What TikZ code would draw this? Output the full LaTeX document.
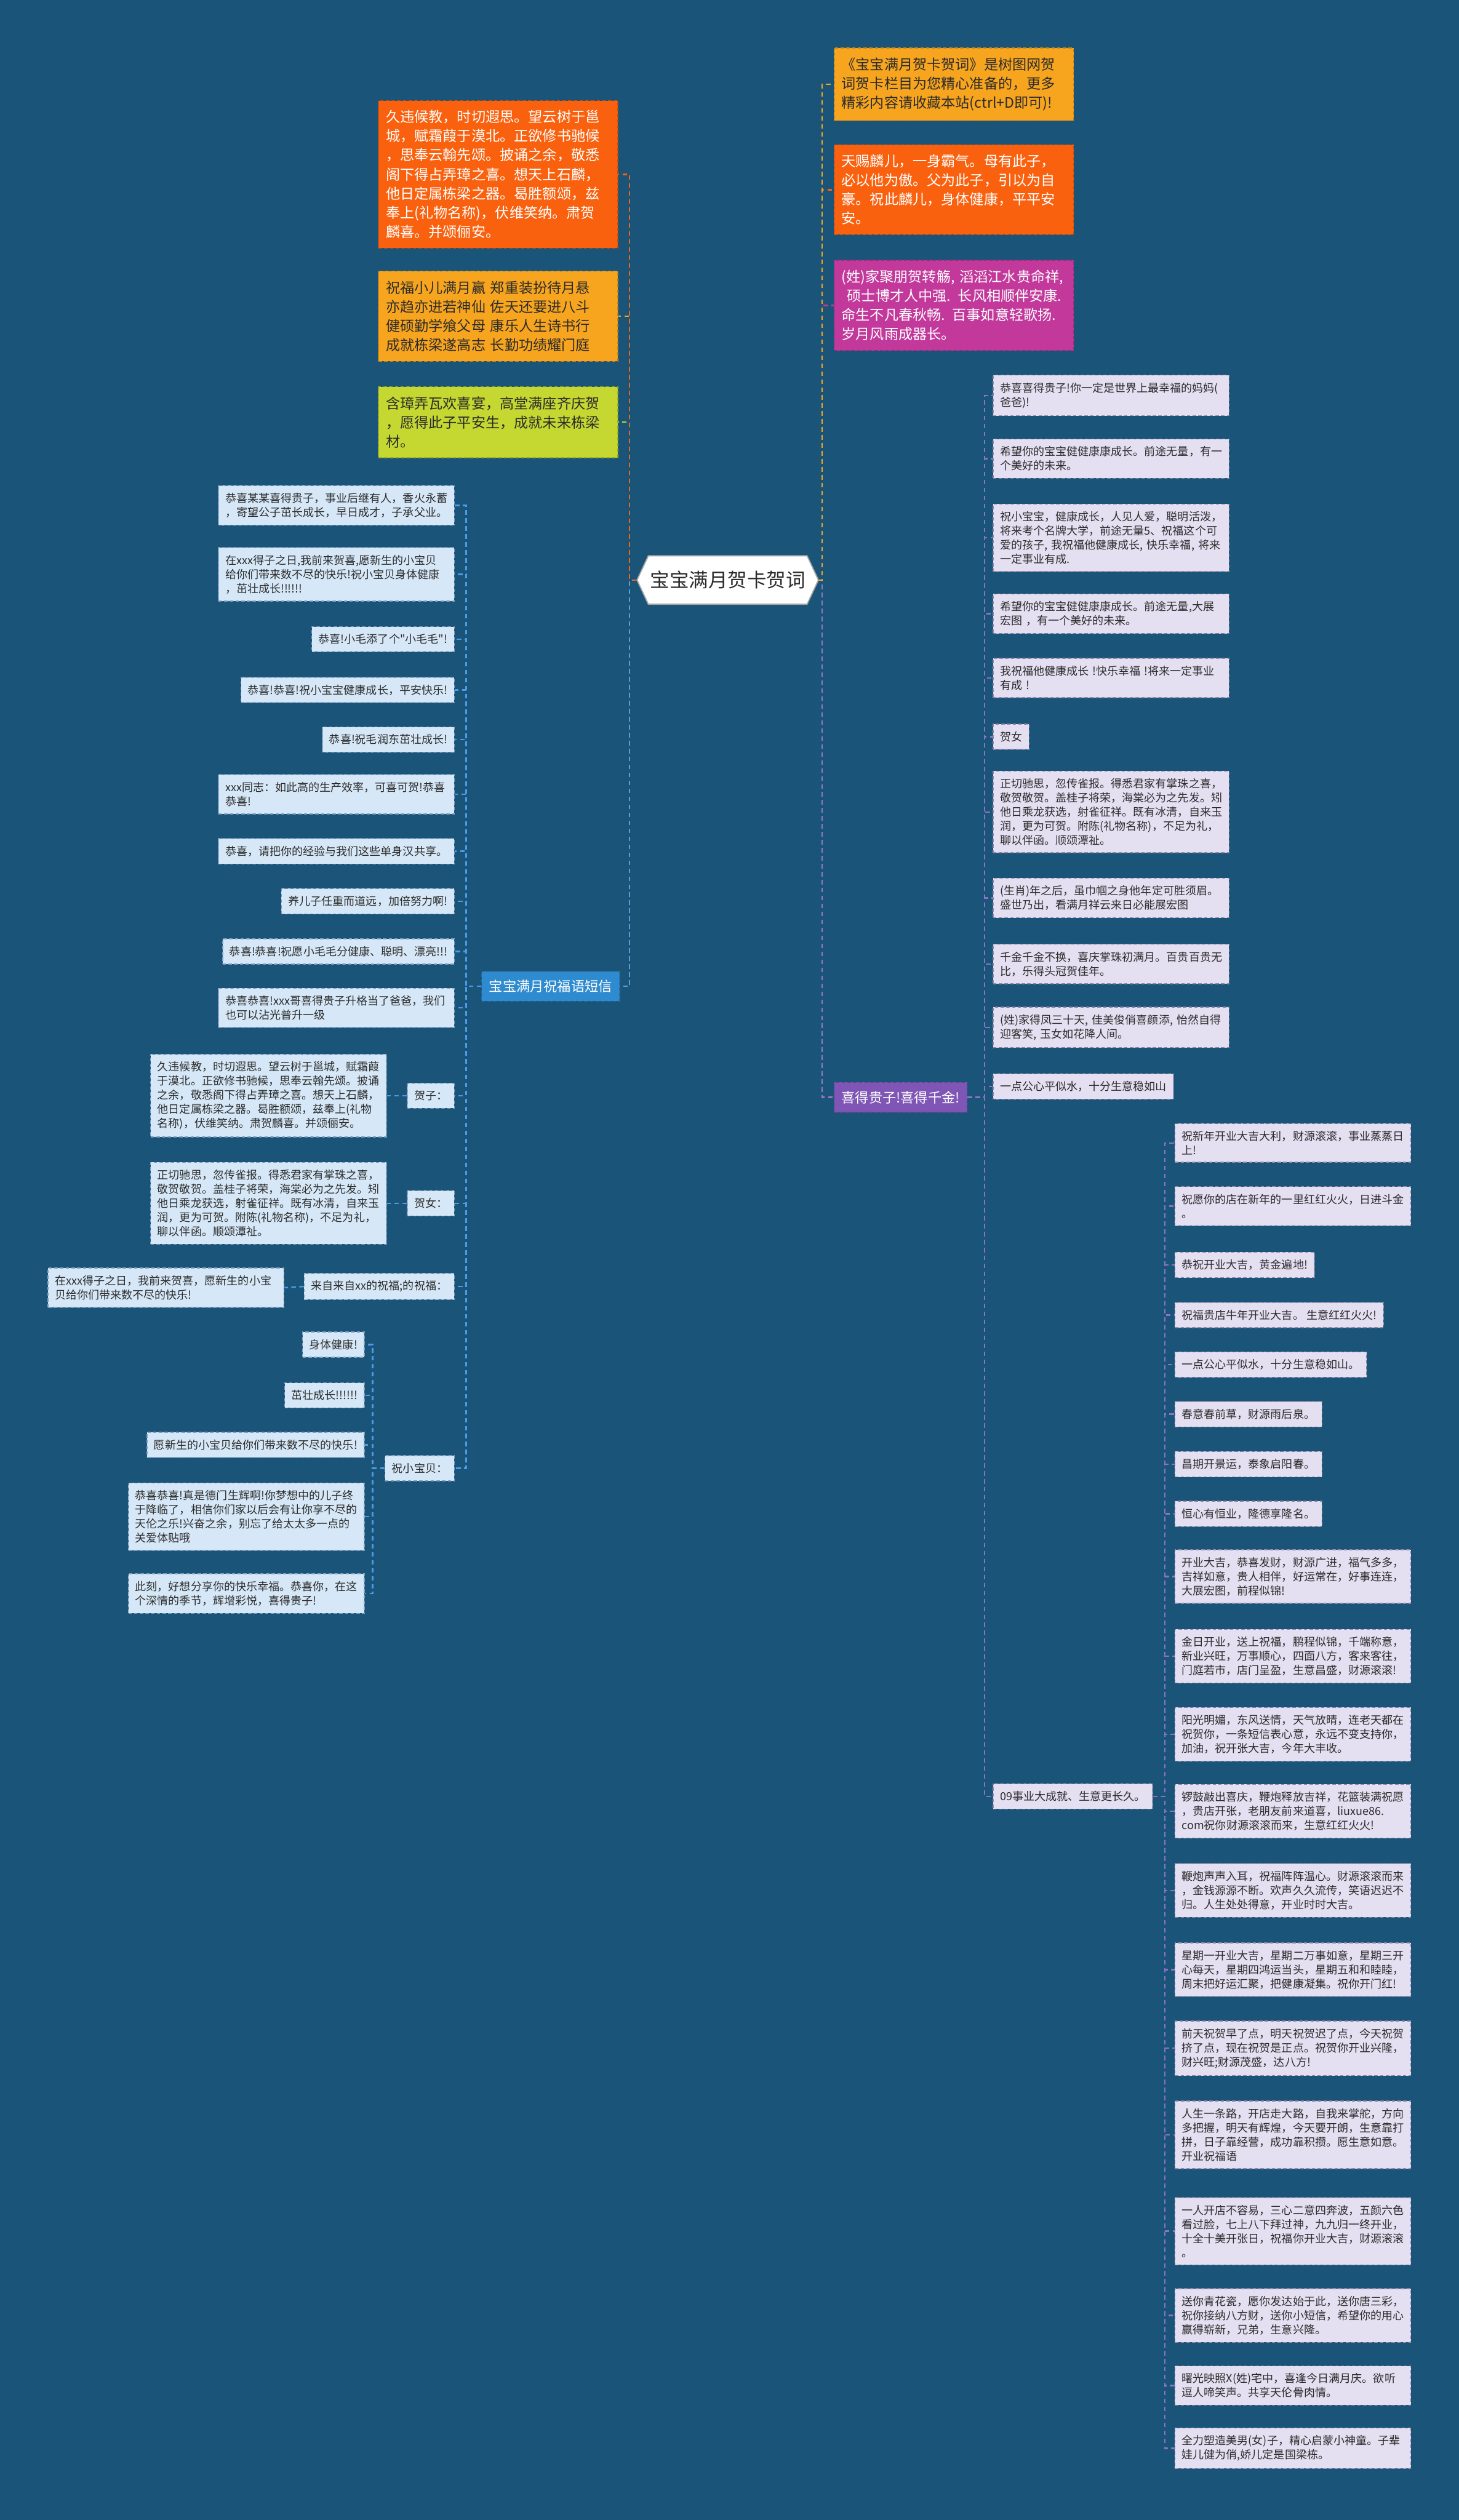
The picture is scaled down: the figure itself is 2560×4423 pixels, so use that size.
\documentclass[tikz,border=0pt]{standalone}
\usepackage{fontspec}
\newfontfamily\cjk{Noto Sans CJK SC}
\usetikzlibrary{shapes.symbols}
\definecolor{bg}{HTML}{1B5479}
\definecolor{lfill}{HTML}{D6E8F7}
\definecolor{lborder}{HTML}{7E9FBF}
\definecolor{rfill}{HTML}{E4DFF1}
\definecolor{rborder}{HTML}{8F88A8}
\definecolor{lline}{HTML}{4C9BE8}
\definecolor{rline}{HTML}{8D72C9}
\definecolor{corange}{HTML}{F9610F}
\definecolor{cyellow}{HTML}{F7A51E}
\definecolor{cgreen}{HTML}{C5D731}
\definecolor{cmagenta}{HTML}{C2399B}
\definecolor{cblue}{HTML}{2F8BD0}
\definecolor{cpurple}{HTML}{7F55B5}
\definecolor{txt}{HTML}{2B2B2B}
\begin{document}
\begin{tikzpicture}[x=1pt,y=-1pt,
  box/.style={inner xsep=12pt, inner ysep=13pt, line width=1.5pt, dash pattern=on 6pt off 4pt,
    font=\cjk\fontsize{19.5}{24.8}\selectfont},
  lbox/.style={box, fill=lfill, draw=lborder, anchor=east, text=txt},
  lwide/.style={lbox, text width=390pt, align=left},
  rbox/.style={box, fill=rfill, draw=rborder, anchor=west, text=txt},
  rwide/.style={rbox, text width=390pt, align=left},
  cbox/.style={inner xsep=13pt, inner ysep=17pt, text width=394pt, align=left, line width=1.5pt,
    dash pattern=on 6pt off 4pt, font=\cjk\fontsize{25}{33.6}\selectfont},
  branch/.style={inner xsep=13pt, inner ysep=15pt, text=white, line width=1.5pt,
    dash pattern=on 6pt off 4pt, font=\cjk\fontsize{24}{30}\selectfont},
  conn/.style={line width=2.5pt, dash pattern=on 8pt off 6pt},
  lconn/.style={conn, draw=lline},
  rconn/.style={conn, draw=rline},
  centre/.style={shape=signal, signal to=east and west, signal pointer angle=130,
    minimum width=310pt, minimum height=85pt, fill=white, draw=gray!70, line width=2pt,
    text=txt, font=\cjk\fontsize{34}{40}\selectfont}
]
\fill[bg] (0,0) rectangle (2560,4423);
\useasboundingbox (0,0) rectangle (2560,4423);

% trunk coordinates
\coordinate (tl) at (1105,0);
\coordinate (tr) at (1443,0);
\coordinate (t1) at (818,0);
\coordinate (t2) at (654,0);
\coordinate (t3) at (1728,0);
\coordinate (t4) at (2044,0);

% centre
\node[centre] (ctr) at (1277,1018) {宝宝满月贺卡贺词};

% top left coloured boxes
\node[cbox, anchor=east, fill=corange, draw=corange!80!black, text=white] (L1) at (1085,306)
 {久违候教，时切遐思。望云树于邕\\城，赋霜葭于漠北。正欲修书驰候\\，思奉云翰先颂。披诵之余，敬悉\\阁下得占弄璋之喜。想天上石麟，\\他日定属栋梁之器。曷胜额颂，兹\\奉上(礼物名称)，伏维笑纳。肃贺\\麟喜。并颂俪安。};
\node[cbox, anchor=east, fill=cyellow, draw=cyellow!80!black, text=txt] (L2) at (1085,555)
 {祝福小儿满月赢 郑重装扮待月悬\\亦趋亦进若神仙 佐天还要进八斗\\健硕勤学飨父母 康乐人生诗书行\\成就栋梁遂高志 长勤功绩耀门庭};
\node[cbox, anchor=east, fill=cgreen, draw=cgreen!80!black, text=txt] (L3) at (1085,741)
 {含璋弄瓦欢喜宴，高堂满座齐庆贺\\，愿得此子平安生，成就未来栋梁\\材。};

% top right coloured boxes
\node[cbox, anchor=west, fill=cyellow, draw=cyellow!80!black, text=txt] (R1) at (1463,148)
 {《宝宝满月贺卡贺词》是树图网贺\\词贺卡栏目为您精心准备的，更多\\精彩内容请收藏本站(ctrl+D即可)!};
\node[cbox, anchor=west, fill=corange, draw=corange!80!black, text=white] (R2) at (1463,333)
 {天赐麟儿，一身霸气。母有此子，\\必以他为傲。父为此子，引以为自\\豪。祝此麟儿，身体健康，平平安\\安。};
\node[cbox, anchor=west, fill=cmagenta, draw=cmagenta!80!black, text=white] (R3) at (1463,536)
 {(姓)家聚朋贺转觞, 滔滔江水贵命祥,\\\hspace*{0.4em}硕士博才人中强. 长风相顺伴安康.\\命生不凡春秋畅. 百事如意轻歌扬.\\岁月风雨成器长。};

% branch nodes
\node[branch, anchor=east, fill=cblue, draw=cblue!80!black] (B1) at (1088,1731) {宝宝满月祝福语短信};
\node[branch, anchor=west, fill=cpurple, draw=cpurple!80!black] (B2) at (1463,1926) {喜得贵子!喜得千金!};

% left column
\node[lwide] (c1) at (798,887) {恭喜某某喜得贵子，事业后继有人，香火永蓄\\，寄望公子茁长成长，早日成才，子承父业。};
\node[lwide] (c2) at (798,1008) {在xxx得子之日,我前来贺喜,愿新生的小宝贝\\给你们带来数不尽的快乐!祝小宝贝身体健康\\，茁壮成长!!!!!!};
\node[lbox] (c3) at (798,1122) {恭喜!小毛添了个"小毛毛"!};
\node[lbox] (c4) at (798,1211) {恭喜!恭喜!祝小宝宝健康成长，平安快乐!};
\node[lbox] (c5) at (798,1298) {恭喜!祝毛润东茁壮成长!};
\node[lwide] (c6) at (798,1394) {xxx同志：如此高的生产效率，可喜可贺!恭喜\\恭喜!};
\node[lbox] (c7) at (798,1494) {恭喜，请把你的经验与我们这些单身汉共享。};
\node[lbox] (c8) at (798,1582) {养儿子任重而道远，加倍努力啊!};
\node[lbox] (c9) at (798,1670) {恭喜!恭喜!祝愿小毛毛分健康、聪明、漂亮!!!};
\node[lwide] (c10) at (798,1769) {恭喜恭喜!xxx哥喜得贵子升格当了爸爸，我们\\也可以沾光普升一级};
\node[lbox] (c11) at (798,1923) {贺子：};
\node[lwide] (d11) at (679,1923) {久违候教，时切遐思。望云树于邕城，赋霜葭\\于漠北。正欲修书驰候，思奉云翰先颂。披诵\\之余，敬悉阁下得占弄璋之喜。想天上石麟，\\他日定属栋梁之器。曷胜额颂，兹奉上(礼物\\名称)，伏维笑纳。肃贺麟喜。并颂俪安。};
\node[lbox] (c12) at (798,2112) {贺女：};
\node[lwide] (d12) at (679,2112) {正切驰思，忽传雀报。得悉君家有掌珠之喜，\\敬贺敬贺。盖桂子将荣，海棠必为之先发。矧\\他日乘龙获选，射雀征祥。既有冰清，自来玉\\润，更为可贺。附陈(礼物名称)，不足为礼，\\聊以伴函。顺颂潭祉。};
\node[lbox] (c13) at (798,2258) {来自来自xx的祝福;的祝福：};
\node[lwide] (d13) at (499,2260) {在xxx得子之日，我前来贺喜，愿新生的小宝\\贝给你们带来数不尽的快乐!};
\node[lbox] (c14) at (798,2577) {祝小宝贝：};
\node[lbox] (g1) at (640,2360) {身体健康!};
\node[lbox] (g2) at (640,2449) {茁壮成长!!!!!!};
\node[lbox] (g3) at (640,2536) {愿新生的小宝贝给你们带来数不尽的快乐!};
\node[lwide] (g4) at (640,2662) {恭喜恭喜!真是德门生辉啊!你梦想中的儿子终\\于降临了，相信你们家以后会有让你享不尽的\\天伦之乐!兴奋之余，别忘了给太太多一点的\\关爱体贴哦};
\node[lwide] (g5) at (640,2797) {此刻，好想分享你的快乐幸福。恭喜你，在这\\个深情的季节，辉增彩悦，喜得贵子!};

% right column
\node[rwide] (r1) at (1742,694) {恭喜喜得贵子!你一定是世界上最幸福的妈妈(\\爸爸)!};
\node[rwide] (r2) at (1742,805) {希望你的宝宝健健康康成长。前途无量，有一\\个美好的未来。};
\node[rwide] (r3) at (1742,944) {祝小宝宝，健康成长，人见人爱，聪明活泼，\\将来考个名牌大学，前途无量5、祝福这个可\\爱的孩子, 我祝福他健康成长, 快乐幸福, 将来\\一定事业有成.};
\node[rwide] (r4) at (1742,1077) {希望你的宝宝健健康康成长。前途无量,大展\\宏图 ，有一个美好的未来。};
\node[rwide] (r5) at (1742,1190) {我祝福他健康成长 !快乐幸福 !将来一定事业\\有成 !};
\node[rbox] (r6) at (1742,1293) {贺女};
\node[rwide] (r7) at (1742,1425) {正切驰思，忽传雀报。得悉君家有掌珠之喜，\\敬贺敬贺。盖桂子将荣，海棠必为之先发。矧\\他日乘龙获选，射雀征祥。既有冰清，自来玉\\润，更为可贺。附陈(礼物名称)，不足为礼，\\聊以伴函。顺颂潭祉。};
\node[rwide] (r8) at (1742,1576) {(生肖)年之后，虽巾帼之身他年定可胜须眉。\\盛世乃出，看满月祥云来日必能展宏图};
\node[rwide] (r9) at (1742,1692) {千金千金不换，喜庆掌珠初满月。百贵百贵无\\比，乐得头冠贺佳年。};
\node[rwide] (r10) at (1742,1803) {(姓)家得凤三十天, 佳美俊俏喜颜添, 怡然自得\\迎客笑, 玉女如花降人间。};
\node[rbox] (r11) at (1742,1907) {一点公心平似水，十分生意稳如山};
\node[rbox] (r12) at (1742,3153) {09事业大成就、生意更长久。};

% sub column
\node[rwide] (s1) at (2061,2006) {祝新年开业大吉大利，财源滚滚，事业蒸蒸日\\上!};
\node[rwide] (s2) at (2061,2117) {祝愿你的店在新年的一里红红火火，日进斗金\\。};
\node[rbox] (s3) at (2061,2220) {恭祝开业大吉，黄金遍地!};
\node[rbox] (s4) at (2061,2308) {祝福贵店牛年开业大吉。 生意红红火火!};
\node[rbox] (s5) at (2061,2395) {一点公心平似水，十分生意稳如山。};
\node[rbox] (s6) at (2061,2482) {春意春前草，财源雨后泉。};
\node[rbox] (s7) at (2061,2570) {昌期开景运，泰象启阳春。};
\node[rbox] (s8) at (2061,2657) {恒心有恒业，隆德享隆名。};
\node[rwide] (s9) at (2061,2767) {开业大吉，恭喜发财，财源广进，福气多多，\\吉祥如意，贵人相伴，好运常在，好事连连，\\大展宏图，前程似锦!};
\node[rwide] (s10) at (2061,2907) {金日开业，送上祝福，鹏程似锦，千端称意，\\新业兴旺，万事顺心，四面八方，客来客往，\\门庭若市，店门呈盈，生意昌盛，财源滚滚!};
\node[rwide] (s11) at (2061,3044) {阳光明媚，东风送情，天气放晴，连老天都在\\祝贺你，一条短信表心意，永远不变支持你，\\加油，祝开张大吉，今年大丰收。};
\node[rwide] (s12) at (2061,3179) {锣鼓敲出喜庆，鞭炮释放吉祥，花篮装满祝愿\\，贵店开张，老朋友前来道喜，liuxue86.\\com祝你财源滚滚而来，生意红红火火!};
\node[rwide] (s13) at (2061,3318) {鞭炮声声入耳，祝福阵阵温心。财源滚滚而来\\，金钱源源不断。欢声久久流传，笑语迟迟不\\归。人生处处得意，开业时时大吉。};
\node[rwide] (s14) at (2061,3457) {星期一开业大吉，星期二万事如意，星期三开\\心每天，星期四鸿运当头，星期五和和睦睦，\\周末把好运汇聚，把健康凝集。祝你开门红!};
\node[rwide] (s15) at (2061,3595) {前天祝贺早了点，明天祝贺迟了点，今天祝贺\\挤了点，现在祝贺是正点。祝贺你开业兴隆，\\财兴旺;财源茂盛，达八方!};
\node[rwide] (s16) at (2061,3747) {人生一条路，开店走大路，自我来掌舵，方向\\多把握，明天有辉煌，今天要开朗，生意靠打\\拼，日子靠经营，成功靠积攒。愿生意如意。\\开业祝福语};
\node[rwide] (s17) at (2061,3916) {一人开店不容易，三心二意四奔波，五颜六色\\看过脸，七上八下拜过神，九九归一终开业，\\十全十美开张日，祝福你开业大吉，财源滚滚\\。};
\node[rwide] (s18) at (2061,4064) {送你青花瓷，愿你发达始于此，送你唐三彩，\\祝你接纳八方财，送你小短信，希望你的用心\\赢得崭新，兄弟，生意兴隆。};
\node[rwide] (s19) at (2061,4187) {曙光映照X(姓)宅中，喜逢今日满月庆。欲听\\逗人啼笑声。共享天伦骨肉情。};
\node[rwide] (s20) at (2061,4297) {全力塑造美男(女)子，精心启蒙小神童。子辈\\娃儿健为俏,娇儿定是国梁栋。};

% connectors from centre
\draw[conn, draw=cblue!80!white] (ctr.west) -- (ctr.west -| tl) |- (B1.east);
\draw[conn, draw=cgreen] (ctr.west) -- (ctr.west -| tl) |- (L3.east);
\draw[conn, draw=cyellow] (ctr.west) -- (ctr.west -| tl) |- (L2.east);
\draw[conn, draw=corange] (ctr.west) -- (ctr.west -| tl) |- (L1.east);
\draw[conn, draw=cpurple!80!white] (ctr.east) -- (ctr.east -| tr) |- (B2.west);
\draw[conn, draw=cmagenta] (ctr.east) -- (ctr.east -| tr) |- (R3.west);
\draw[conn, draw=corange] (ctr.east) -- (ctr.east -| tr) |- (R2.west);
\draw[conn, draw=cyellow] (ctr.east) -- (ctr.east -| tr) |- (R1.west);

% left branch connectors
\foreach \c in {c1,c2,c3,c4,c5,c6,c7,c8,c9,c10,c11,c12,c13,c14}
  \draw[lconn] (B1.west) -- (B1.west -| t1) |- (\c.east);
\draw[lconn] (c11.west) -- (d11.east);
\draw[lconn] (c12.west) -- (d12.east);
\draw[lconn] (c13.west) -- (d13.east);
\foreach \c in {g1,g2,g3,g4,g5}
  \draw[lconn] (c14.west) -- (c14.west -| t2) |- (\c.east);

% right branch connectors
\foreach \c in {r1,r2,r3,r4,r5,r6,r7,r8,r9,r10,r11,r12}
  \draw[rconn] (B2.east) -- (B2.east -| t3) |- (\c.west);
\foreach \c in {s1,s2,s3,s4,s5,s6,s7,s8,s9,s10,s11,s12,s13,s14,s15,s16,s17,s18,s19,s20}
  \draw[rconn] (r12.east) -- (r12.east -| t4) |- (\c.west);
\end{tikzpicture}
\end{document}
